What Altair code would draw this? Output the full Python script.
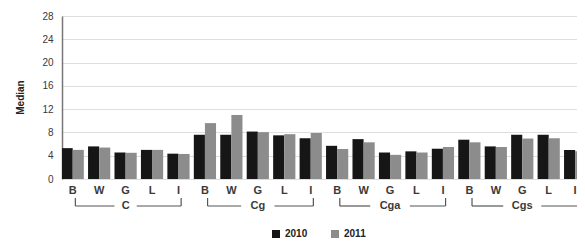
import altair as alt
import pandas as pd

groups = ["C", "Cg", "Cga", "Cgs"]
subs = ["B", "W", "G", "L", "I"]
years = ["2010", "2011"]
v2010 = [5.3, 5.6, 4.55, 5.0, 4.35,
         7.6, 7.6, 8.15, 7.5, 7.0,
         5.7, 6.85, 4.55, 4.75, 5.2,
         6.75, 5.6, 7.6, 7.6, 5.0]
v2011 = [5.0, 5.4, 4.5, 5.0, 4.3,
         9.6, 11.0, 8.05, 7.7, 7.9,
         5.15, 6.3, 4.15, 4.55, 5.5,
         6.3, 5.5, 6.95, 7.0, 4.75]
y_ticks = [0, 4, 8, 12, 16, 20, 24, 28]
gap_half = {"C": 0.42, "Cg": 0.63, "Cga": 0.75, "Cgs": 0.72}

BW = 0.42
rows = []
sub_rows = []
for gi, g in enumerate(groups):
    for si, s in enumerate(subs):
        idx = gi * 5 + si
        sub_rows.append({"idx": idx, "label": s})
        rows.append({"x0": idx - BW, "x1": idx, "base": 0, "Median": v2010[idx], "Year": "2010"})
        rows.append({"x0": idx, "x1": idx + BW, "base": 0, "Median": v2011[idx], "Year": "2011"})
bars_df = pd.DataFrame(rows)
sub_df = pd.DataFrame(sub_rows)

h_rows, v_rows, g_rows = [], [], []
for gi, g in enumerate(groups):
    a = gi * 5 + 0.1
    b = gi * 5 + 4 + 0.1
    c = gi * 5 + 2
    h_rows.append({"xa": a, "xb": c - gap_half[g]})
    h_rows.append({"xa": c + gap_half[g], "xb": b})
    v_rows.append({"xv": a})
    v_rows.append({"xv": b})
    g_rows.append({"xc": c, "label": g})
h_df = pd.DataFrame(h_rows)
v_df = pd.DataFrame(v_rows)
g_df = pd.DataFrame(g_rows)

xscale = alt.Scale(domain=[-0.405, 19.07], nice=False, zero=False)
FONT = "Liberation Sans"
TXT = "#3a3a3a"

bars = alt.Chart(bars_df).mark_bar(clip=True).encode(
    x=alt.X("x0:Q", scale=xscale, axis=None),
    x2="x1:Q",
    y=alt.Y("Median:Q", scale=alt.Scale(domain=[0, 28], nice=False),
            axis=alt.Axis(values=y_ticks, title="Median", grid=True,
                          gridColor="#dedede", gridWidth=1.2,
                          domainColor="#777", domainWidth=1.5,
                          ticks=False, labelPadding=9, labelFont=FONT,
                          labelFontSize=10, labelColor=TXT,
                          titleFont=FONT, titleFontSize=10, titleFontWeight="bold",
                          titleColor="#222", titleAngle=270, titleX=-42, titleY=81,
                          titleBaseline="middle", titleAlign="center")),
    y2="base:Q",
    color=alt.Color("Year:N", scale=alt.Scale(domain=years, range=["#161616", "#8c8c8c"]),
                    legend=alt.Legend(title=None, orient="none", direction="horizontal",
                                      legendX=209, legendY=213, symbolType="square",
                                      symbolSize=64, symbolStrokeWidth=0,
                                      labelFont=FONT, labelFontSize=10,
                                      labelFontWeight="bold", labelColor="#222",
                                      labelOffset=4, columnPadding=22, padding=0)),
)

sub_text = alt.Chart(sub_df).mark_text(font=FONT, fontSize=11, fontWeight="bold",
                                       color=TXT, baseline="middle").encode(
    x=alt.X("idx:Q", scale=xscale), y=alt.value(175), text="label:N")

h_rule = alt.Chart(h_df).mark_rule(color="#555", strokeWidth=1.2).encode(
    x=alt.X("xa:Q", scale=xscale), x2="xb:Q", y=alt.value(190))
v_rule = alt.Chart(v_df).mark_rule(color="#555", strokeWidth=1.2).encode(
    x=alt.X("xv:Q", scale=xscale), y=alt.value(182), y2=alt.value(190))
g_text = alt.Chart(g_df).mark_text(font=FONT, fontSize=11, fontWeight="bold",
                                   color=TXT, baseline="middle").encode(
    x=alt.X("xc:Q", scale=xscale), y=alt.value(190), text="label:N")

chart = alt.layer(bars, sub_text, h_rule, v_rule, g_text).properties(
    width=515, height=163,
    autosize=alt.AutoSizeParams(type="none"),
    padding={"left": 54, "top": 8, "right": 0, "bottom": 60},
).configure_view(stroke=None).configure(background="white")

chart.save("out.html", embed_options={"renderer": "svg", "actions": False})
